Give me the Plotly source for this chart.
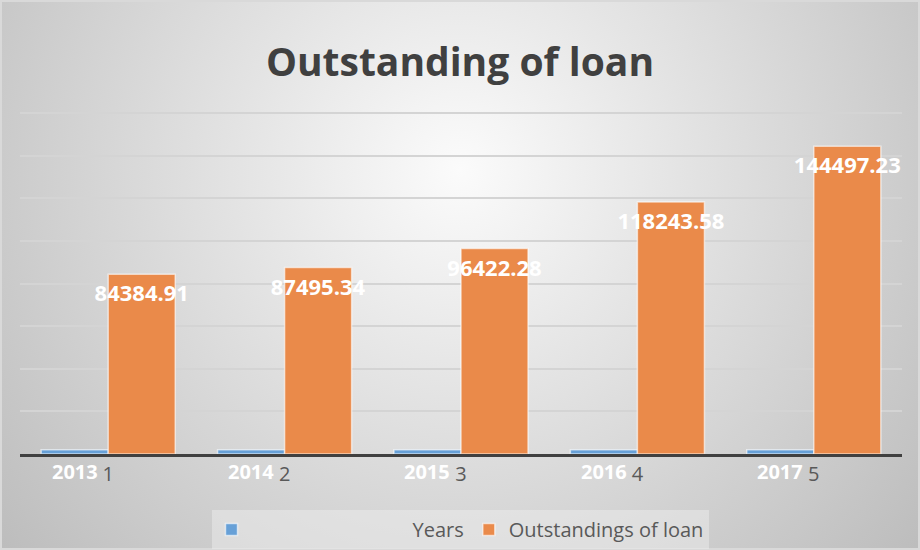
import base64
import plotly.graph_objects as go

# ---- data ----
categories = [1, 2, 3, 4, 5]
tick_labels = ["1", "2", "3", "4", "5"]
years = [2013, 2014, 2015, 2016, 2017]
outstanding = [84384.91, 87495.34, 96422.28, 118243.58, 144497.23]
outstanding_labels = ["84384.91", "87495.34", "96422.28", "118243.58", "144497.23"]
year_labels = ["2013", "2014", "2015", "2016", "2017"]

# ---- layout constants ----
W, H = 920, 550
ML, MR, MT, MB = 20, 18, 111, 96
PW, PH = W - ML - MR, H - MT - MB
BARGAP = 0.24
bar_w = (1 - BARGAP) / 2
FONT = "Open Sans"

blue = "#67A0D7"
orange = "#EA8A4A"

svg = (
    f"<svg xmlns='http://www.w3.org/2000/svg' width='{W}' height='{H}'>"
    "<defs><radialGradient id='g' cx='460' cy='170' r='620' gradientUnits='userSpaceOnUse'>"
    "<stop offset='0' stop-color='#fbfbfb'/><stop offset='1' stop-color='#bababa'/>"
    "</radialGradient></defs>"
    f"<rect x='0' y='0' width='{W}' height='{H}' fill='url(#g)'/>"
    f"<rect x='1' y='1' width='{W-2}' height='{H-2}' fill='none' stroke='#d9d9d9' stroke-width='2'/>"
    "</svg>"
)
bg_src = "data:image/svg+xml;base64," + base64.b64encode(svg.encode()).decode()

fig = go.Figure()
fig.add_trace(go.Bar(
    x=categories, y=years, name="\u00a0" * 31 + "Years",
    marker=dict(color=blue, line=dict(color="rgba(255,255,255,0.6)", width=1.5)),
    hoverinfo="skip",
))
fig.add_trace(go.Bar(
    x=categories, y=outstanding, name="Outstandings of loan",
    marker=dict(color=orange, line=dict(color="rgba(255,255,255,0.6)", width=1.5)),
    text=outstanding_labels, textposition="inside", insidetextanchor="end",
    textangle=0, constraintext="none", cliponaxis=False,
    textfont=dict(family=FONT, size=22, color="white", weight=700),
    hoverinfo="skip",
))

annotations = [
    dict(x=c - bar_w / 2, y=0, xref="x", yref="y", text=lbl, showarrow=False,
         yanchor="top", xanchor="center", yshift=-2,
         font=dict(family=FONT, size=20, color="white", weight=700))
    for c, lbl in zip(categories, year_labels)
]

fig.update_layout(
    width=W, height=H,
    margin=dict(l=ML, r=MR, t=MT, b=MB, autoexpand=False),
    paper_bgcolor="#d0d0d0", plot_bgcolor="rgba(0,0,0,0)",
    barmode="group", bargap=BARGAP, bargroupgap=0,
    title=dict(text="<b>Outstanding of loan</b>", x=0.5, xanchor="center",
               y=1 - 62 / H, yanchor="middle",
               font=dict(family=FONT, size=39, color="#404040")),
    xaxis=dict(range=[0.5, 5.5], tickvals=categories, ticktext=tick_labels,
               showgrid=False, zeroline=False, showline=True,
               linecolor="#404040", linewidth=3,
               tickfont=dict(family=FONT, size=20, color="#595959")),
    yaxis=dict(range=[0, 161000], dtick=20000, showticklabels=False,
               showgrid=True, gridcolor="#d4d4d4", gridwidth=2, zeroline=False),
    legend=dict(orientation="h", x=(460 - ML) / PW, xanchor="center",
                y=-(510 - (H - MB)) / PH, yanchor="top",
                bgcolor="rgba(240,240,240,0.45)",
                font=dict(family=FONT, size=20, color="#595959")),
    annotations=annotations,
    images=[dict(source=bg_src, xref="paper", yref="paper",
                 x=-ML / PW, y=1 + MT / PH, sizex=W / PW, sizey=H / PH,
                 xanchor="left", yanchor="top", sizing="stretch", layer="below")],
    showlegend=True,
)

fig.write_html("out.html")
